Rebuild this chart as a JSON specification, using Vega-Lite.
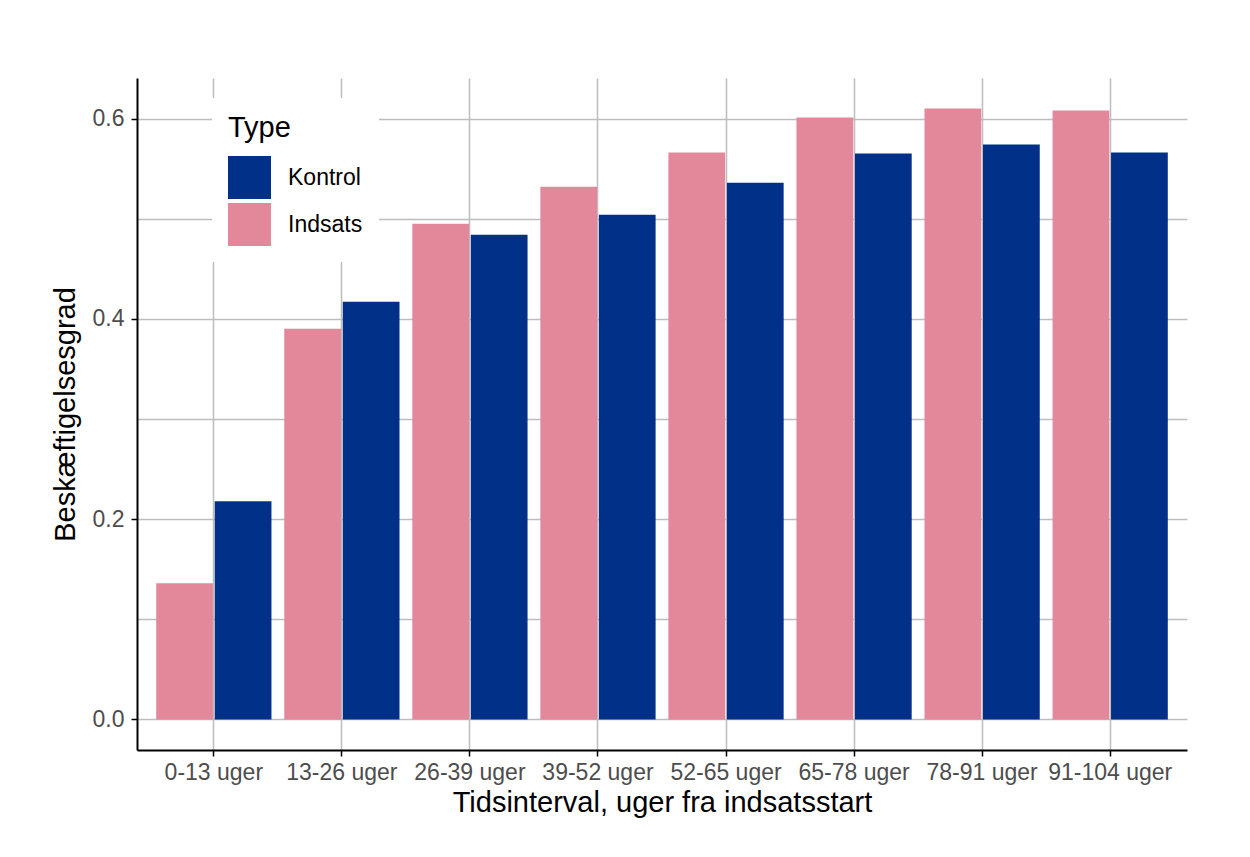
{
  "$schema": "https://vega.github.io/schema/vega-lite/v6.json",
  "width": 1050,
  "height": 672,
  "autosize": {"type": "none"},
  "padding": {"left": 137, "top": 78, "right": 63, "bottom": 107},
  "background": "white",
  "data": {
    "values": [
      {"interval": "0-13 uger", "Type": "Indsats", "value": 0.136},
      {"interval": "0-13 uger", "Type": "Kontrol", "value": 0.218},
      {"interval": "13-26 uger", "Type": "Indsats", "value": 0.390},
      {"interval": "13-26 uger", "Type": "Kontrol", "value": 0.417},
      {"interval": "26-39 uger", "Type": "Indsats", "value": 0.495},
      {"interval": "26-39 uger", "Type": "Kontrol", "value": 0.484},
      {"interval": "39-52 uger", "Type": "Indsats", "value": 0.532},
      {"interval": "39-52 uger", "Type": "Kontrol", "value": 0.504},
      {"interval": "52-65 uger", "Type": "Indsats", "value": 0.566},
      {"interval": "52-65 uger", "Type": "Kontrol", "value": 0.536},
      {"interval": "65-78 uger", "Type": "Indsats", "value": 0.601},
      {"interval": "65-78 uger", "Type": "Kontrol", "value": 0.565},
      {"interval": "78-91 uger", "Type": "Indsats", "value": 0.610},
      {"interval": "78-91 uger", "Type": "Kontrol", "value": 0.574},
      {"interval": "91-104 uger", "Type": "Indsats", "value": 0.608},
      {"interval": "91-104 uger", "Type": "Kontrol", "value": 0.566}
    ]
  },
  "mark": {"type": "bar"},
  "encoding": {
    "x": {
      "field": "interval",
      "type": "nominal",
      "sort": ["0-13 uger", "13-26 uger", "26-39 uger", "39-52 uger", "52-65 uger", "65-78 uger", "78-91 uger", "91-104 uger"],
      "scale": {"paddingInner": 0.1, "paddingOuter": 0.15},
      "title": "Tidsinterval, uger fra indsatsstart",
      "axis": {"labelAngle": 0, "labelPadding": 5, "titlePadding": 4, "grid": true}
    },
    "xOffset": {
      "field": "Type",
      "type": "nominal",
      "sort": ["Indsats", "Kontrol"],
      "scale": {"paddingInner": 0.03, "paddingOuter": 0}
    },
    "y": {
      "field": "value",
      "type": "quantitative",
      "stack": null,
      "scale": {"domain": [-0.0305, 0.6405], "nice": false, "zero": false},
      "title": "Beskæftigelsesgrad",
      "axis": {
        "values": [0, 0.1, 0.2, 0.3, 0.4, 0.5, 0.6],
        "format": ".1f",
        "labelExpr": "round(datum.value * 10) % 2 == 0 ? datum.label : ''",
        "tickOpacity": {"condition": {"test": "round(datum.value * 10) % 2 == 0", "value": 1}, "value": 0},
        "labelPadding": 7,
        "titlePadding": 12
      }
    },
    "color": {
      "field": "Type",
      "type": "nominal",
      "scale": {"domain": ["Kontrol", "Indsats"], "range": ["#003087", "#e3879a"]},
      "legend": {
        "title": "Type",
        "orient": "none",
        "legendX": 75,
        "legendY": 20,
        "fillColor": "white",
        "padding": 16,
        "titleFontSize": 29,
        "titleFontWeight": "normal",
        "titleColor": "black",
        "titlePadding": 13,
        "labelFontSize": 23,
        "labelColor": "black",
        "labelOffset": 17,
        "symbolType": "square",
        "symbolSize": 1849,
        "symbolStrokeWidth": 0,
        "symbolOpacity": 1,
        "rowPadding": 4
      }
    }
  },
  "config": {
    "font": "Liberation Sans",
    "view": {"stroke": null},
    "axis": {
      "domainColor": "black",
      "domainWidth": 2,
      "tickColor": "black",
      "tickWidth": 1.5,
      "tickSize": 6,
      "gridColor": "#bdbdbd",
      "gridWidth": 1.5,
      "labelColor": "#4d4d4d",
      "labelFontSize": 23,
      "titleFontSize": 29,
      "titleFontWeight": "normal",
      "titleColor": "black"
    }
  }
}
